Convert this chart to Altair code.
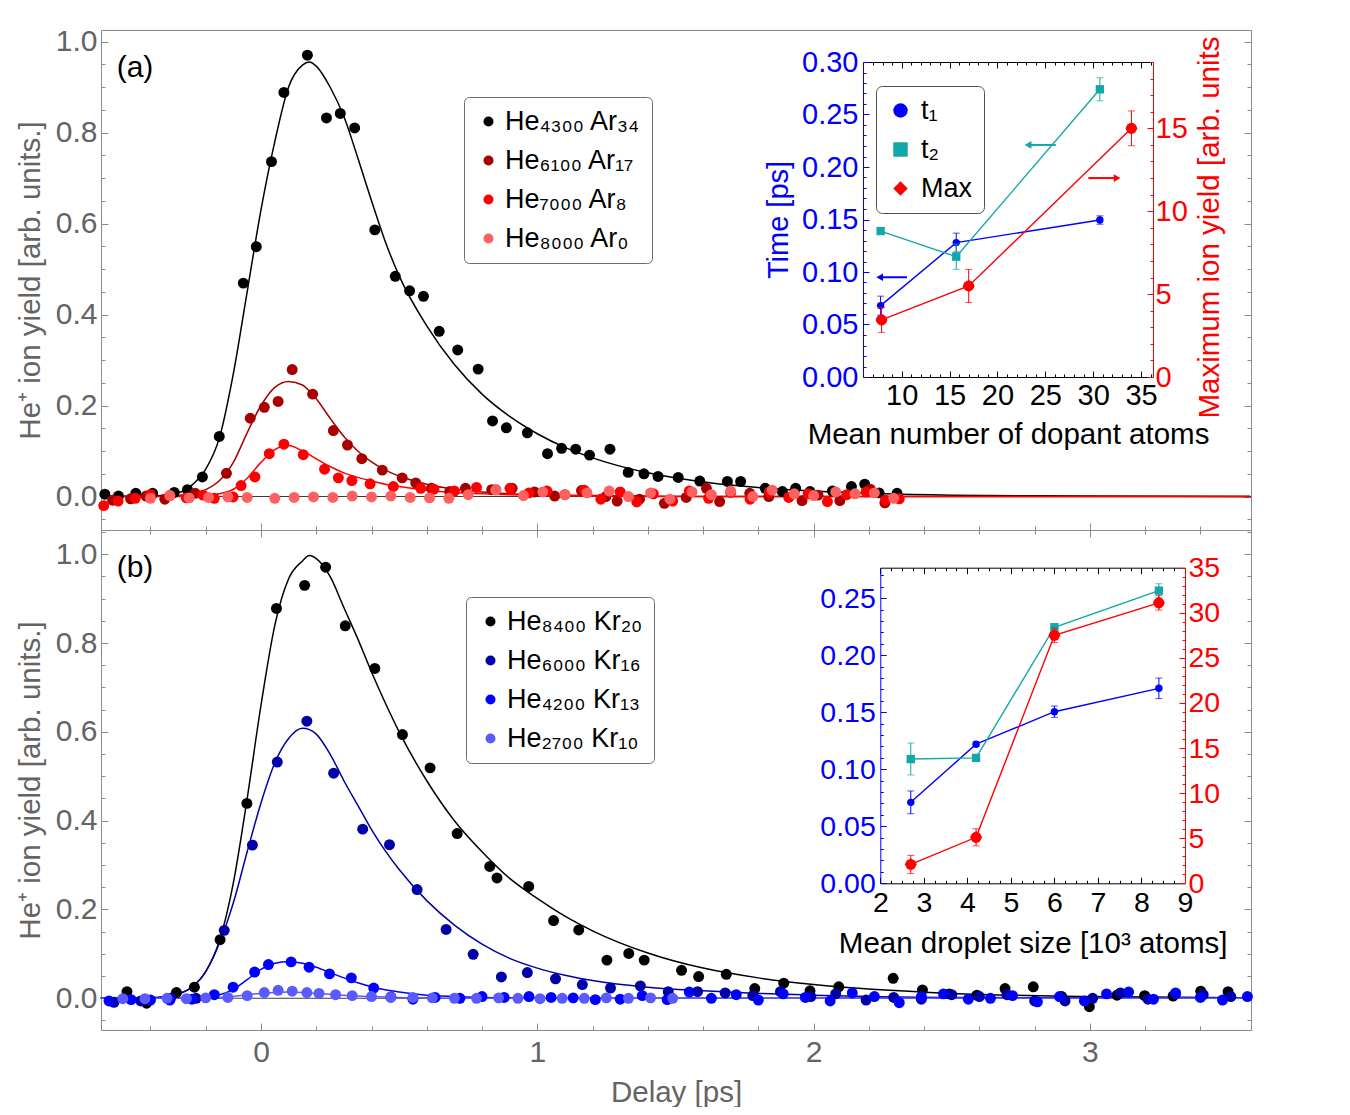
import altair as alt
import pandas as pd

FONT = "Liberation Sans"
GRAY = "#646464"
FRAME = "#8c8c8c"
BLUE = "#0000ff"
TEAL = "#12a8a8"
RED = "#ff0000"

# ---------------- panel (a): Ar-doped droplets ----------------
a_names = ["He₄₃₀₀ Ar₃₄", "He₆₁₀₀ Ar₁₇", "He₇₀₀₀ Ar₈", "He₈₀₀₀ Ar₀"]
a_colors = ["#000000", "#a80000", "#ff0000", "#ff6060"]

a_ar34_x = [-0.565, -0.516, -0.453, -0.392, -0.314, -0.266, -0.212, -0.151, -0.064, -0.017, 0.038, 0.083,
            0.168, 0.237, 0.287, 0.339, 0.412, 0.486, 0.538, 0.588, 0.645, 0.712, 0.786, 0.838, 0.888, 0.964,
            1.037, 1.088, 1.139, 1.189, 1.263, 1.329, 1.386, 1.437, 1.510, 1.588, 1.688, 1.736, 1.825, 1.887,
            1.935, 1.987, 2.068, 2.137, 2.185, 2.237, 2.302]
a_ar34_y = [0.005, 0.001, 0.007, 0.007, 0.009, 0.015, 0.043, 0.132, 0.469, 0.549, 0.736, 0.888, 0.970, 0.832,
            0.842, 0.810, 0.586, 0.484, 0.452, 0.440, 0.363, 0.322, 0.280, 0.166, 0.151, 0.140, 0.094, 0.106,
            0.104, 0.091, 0.104, 0.053, 0.050, 0.044, 0.042, 0.034, 0.033, 0.033, 0.018, 0.011, 0.018, 0.011,
            0.012, 0.022, 0.027, 0.008, 0.007]
a_ar17_x = [-0.537, -0.472, -0.416, -0.348, -0.238, -0.125, -0.039, 0.012, 0.062, 0.113, 0.187, 0.262, 0.313,
            0.365, 0.439, 0.511, 0.560, 0.617, 0.683, 0.740, 0.835, 0.909, 0.990, 1.063, 1.160, 1.248, 1.289,
            1.370, 1.460, 1.539, 1.612, 1.660, 1.769, 1.838, 1.958, 2.016, 2.095, 2.205, 2.258]
a_ar17_y = [-0.008, -0.005, 0.001, -0.006, 0.007, 0.051, 0.172, 0.196, 0.209, 0.279, 0.225, 0.145, 0.113,
            0.083, 0.058, 0.041, 0.030, 0.018, 0.011, 0.018, 0.015, 0.018, 0.010, 0.001, 0.013, 0.000, -0.010,
            -0.006, -0.015, -0.002, 0.018, -0.011, 0.007, 0.000, -0.009, 0.003, -0.009, 0.016, -0.014]
a_ar8_x = [-0.569, -0.517, -0.455, -0.40, -0.33, -0.27, -0.21, -0.169, -0.101, -0.072, -0.022, 0.030, 0.083,
           0.153, 0.230, 0.280, 0.329, 0.395, 0.479, 0.578, 0.626, 0.700, 0.780, 0.850, 0.901, 0.97, 1.035,
           1.10, 1.17, 1.23, 1.30, 1.36, 1.42, 1.49, 1.55, 1.62, 1.70, 1.77, 1.84, 1.91, 1.98, 2.05, 2.12,
           2.19, 2.26, 2.31]
a_ar8_y = [-0.020, -0.010, -0.004, 0.004, 0.002, -0.003, 0.003, -0.004, -0.001, 0.024, 0.043, 0.094, 0.115,
           0.092, 0.060, 0.041, 0.035, 0.028, 0.022, 0.018, 0.016, 0.012, 0.020, 0.015, 0.018, 0.008, 0.012,
           0.004, 0.014, -0.006, 0.010, -0.012, 0.006, -0.010, 0.012, -0.004, 0.009, -0.006, 0.010, -0.002,
           0.006, -0.011, 0.004, 0.010, -0.008, -0.005]
a_ar0_x = [-0.40, -0.33, -0.26, -0.19, -0.12, -0.05, 0.05, 0.12, 0.19, 0.26, 0.33, 0.40, 0.47, 0.54, 0.61,
           0.68, 0.75, 0.85, 0.95, 1.02, 1.10, 1.18, 1.26, 1.33, 1.41, 1.48, 1.56, 1.63, 1.70, 1.78, 1.85,
           1.93, 2.00, 2.08, 2.15, 2.22, 2.29]
a_ar0_y = [-0.004, 0.002, -0.003, -0.002, -0.001, -0.002, -0.004, -0.002, -0.001, -0.002, 0.001, -0.001,
           0.001, -0.002, -0.003, -0.004, 0.004, 0.014, 0.002, 0.010, 0.004, 0.008, 0.012, 0.000, 0.008,
           -0.006, 0.010, 0.004, 0.012, 0.000, 0.014, 0.006, 0.002, 0.010, 0.006, 0.008, -0.004]

# fitted curves
fit_x = [-0.58, -0.4, -0.3, -0.25, -0.2, -0.15, -0.1, -0.05, 0.0, 0.05, 0.1, 0.15, 0.175, 0.2, 0.25, 0.3, 0.35,
         0.4, 0.45, 0.5, 0.6, 0.7, 0.8, 0.9, 1.0, 1.1, 1.2, 1.4, 1.6, 1.8, 2.0, 2.5, 3.0, 3.58]
fit_a_ar34 = [0.0, 0.001, 0.008, 0.025, 0.06, 0.13, 0.27, 0.45, 0.63, 0.78, 0.90, 0.948, 0.955, 0.946, 0.90,
              0.835, 0.745, 0.65, 0.56, 0.485, 0.375, 0.29, 0.225, 0.176, 0.138, 0.108, 0.085, 0.052, 0.032,
              0.02, 0.012, 0.003, 0.001, 0.0]
fit_a_ar17 = [0.0, 0.0, 0.002, 0.006, 0.015, 0.035, 0.075, 0.14, 0.20, 0.24, 0.253, 0.245, 0.232, 0.215, 0.172,
              0.132, 0.10, 0.076, 0.058, 0.045, 0.027, 0.016, 0.01, 0.006, 0.004, 0.003, 0.002, 0.001, 0.0,
              0.0, 0.0, 0.0, 0.0, 0.0]
fit_a_ar8 = [0.0, 0.0, 0.0, 0.001, 0.002, 0.006, 0.016, 0.04, 0.075, 0.103, 0.112, 0.10, 0.092, 0.083, 0.066,
             0.052, 0.042, 0.034, 0.027, 0.022, 0.014, 0.009, 0.006, 0.004, 0.003, 0.002, 0.001, 0.0, 0.0,
             0.0, 0.0, 0.0, 0.0, 0.0]

# ---------------- panel (b): Kr-doped droplets ----------------
b_names = ["He₈₄₀₀ Kr₂₀", "He₆₀₀₀ Kr₁₆", "He₄₂₀₀ Kr₁₃", "He₂₇₀₀ Kr₁₀"]
b_colors = ["#000000", "#0000a8", "#0000ff", "#5a5aff"]

b_kr20_x = [-0.485, -0.414, -0.306, -0.241, -0.148, -0.051, 0.056, 0.158, 0.234, 0.305, 0.412, 0.512, 0.612,
            0.710, 0.828, 0.854, 0.969, 1.059, 1.150, 1.252, 1.331, 1.387, 1.522, 1.584, 1.684, 1.787, 1.892,
            1.987, 2.091, 2.288, 2.394, 2.491, 2.591, 2.693, 2.795, 2.898, 2.998, 3.098, 3.198, 3.301, 3.401,
            3.500]
b_kr20_y = [0.015, -0.011, 0.013, 0.025, 0.132, 0.439, 0.878, 0.930, 0.971, 0.839, 0.743, 0.594, 0.519, 0.371,
            0.297, 0.271, 0.252, 0.175, 0.154, 0.086, 0.101, 0.086, 0.063, 0.049, 0.054, 0.022, 0.034, 0.017,
            0.026, 0.045, 0.019, 0.010, 0.007, 0.022, 0.026, 0.004, -0.019, 0.007, 0.006, 0.005, 0.016, 0.015]
b_kr16_x = [-0.532, -0.435, -0.327, -0.235, -0.133, -0.031, 0.059, 0.166, 0.263, 0.368, 0.465, 0.565, 0.670,
            0.768, 0.870, 0.964, 1.066, 1.163, 1.265, 1.373, 1.474, 1.580, 1.68, 1.78, 1.88, 1.99, 2.08, 2.19,
            2.29, 2.39, 2.50, 2.60, 2.70, 2.80, 2.91, 3.01, 3.11, 3.21, 3.31, 3.41, 3.51]
b_kr16_y = [-0.009, -0.006, 0.000, 0.000, 0.153, 0.345, 0.532, 0.624, 0.507, 0.381, 0.346, 0.245, 0.155, 0.099,
            0.048, 0.058, 0.044, 0.031, 0.023, 0.028, 0.015, 0.015, 0.012, 0.006, 0.015, 0.004, 0.010, -0.004,
            0.002, -0.002, 0.008, 0.004, 0.008, -0.006, -0.006, 0.000, 0.012, -0.002, 0.010, 0.008, 0.004]
b_kr13_x = [-0.55, -0.47, -0.40, -0.33, -0.25, -0.169, -0.101, -0.023, 0.027, 0.109, 0.174, 0.248, 0.327,
            0.408, 0.47, 0.55, 0.63, 0.72, 0.80, 0.88, 0.97, 1.05, 1.13, 1.21, 1.30, 1.38, 1.47, 1.55, 1.63,
            1.72, 1.80, 1.89, 1.97, 2.06, 2.14, 2.22, 2.31, 2.39, 2.47, 2.56, 2.64, 2.72, 2.81, 2.89, 2.98,
            3.06, 3.14, 3.23, 3.31, 3.40, 3.48, 3.57]
b_kr13_y = [-0.006, -0.003, -0.004, -0.004, -0.002, 0.008, 0.025, 0.059, 0.076, 0.082, 0.070, 0.055, 0.046,
            0.023, 0.003, -0.002, 0.002, 0.000, 0.004, 0.002, 0.004, 0.002, 0.001, -0.003, -0.002, 0.006,
            -0.003, 0.014, 0.000, 0.008, -0.004, 0.010, 0.002, -0.006, 0.012, 0.004, -0.010, 0.004, 0.010,
            -0.002, 0.000, 0.006, -0.008, 0.004, -0.006, 0.010, 0.014, -0.002, 0.012, 0.002, -0.004, 0.004]
b_kr10_x = [-0.50, -0.42, -0.34, -0.27, -0.20, -0.12, -0.05, 0.012, 0.062, 0.113, 0.166, 0.21, 0.27, 0.33,
            0.40, 0.47, 0.55, 0.62, 0.70, 0.78, 0.86, 0.93, 1.01, 1.09, 1.17, 1.25, 1.33, 1.41, 1.49]
b_kr10_y = [-0.001, -0.001, 0.000, -0.001, 0.001, 0.002, 0.006, 0.013, 0.018, 0.016, 0.013, 0.011, 0.008,
            0.006, 0.004, 0.002, 0.002, 0.001, 0.000, 0.000, 0.001, 0.000, -0.001, 0.000, 0.000, 0.001, 0.000,
            0.001, 0.000]

fit_b_kr20 = [0.0, 0.001, 0.01, 0.025, 0.06, 0.13, 0.26, 0.45, 0.66, 0.84, 0.945, 0.985, 0.997, 0.99, 0.95,
              0.88, 0.81, 0.735, 0.665, 0.60, 0.49, 0.40, 0.33, 0.27, 0.225, 0.185, 0.152, 0.102, 0.068, 0.046,
              0.031, 0.011, 0.004, 0.001]
fit_b_kr16 = [0.0, 0.001, 0.01, 0.025, 0.06, 0.125, 0.215, 0.33, 0.44, 0.53, 0.585, 0.608, 0.605, 0.595, 0.55,
              0.49, 0.435, 0.38, 0.332, 0.29, 0.22, 0.165, 0.122, 0.09, 0.068, 0.052, 0.04, 0.025, 0.017,
              0.011, 0.007, 0.002, 0.001, 0.0]
fit_b_kr13 = [0.0, 0.0, 0.0, 0.001, 0.003, 0.008, 0.02, 0.042, 0.065, 0.079, 0.083, 0.079, 0.075, 0.07, 0.058,
              0.046, 0.035, 0.026, 0.019, 0.014, 0.007, 0.004, 0.002, 0.001, 0.0, 0.0, 0.0, 0.0, 0.0, 0.0, 0.0,
              0.0, 0.0, 0.0]
fit_b_kr10 = [0.0, 0.0, 0.0, 0.0, 0.0, 0.002, 0.004, 0.008, 0.011, 0.013, 0.014, 0.013, 0.012, 0.011, 0.009,
              0.007, 0.005, 0.004, 0.003, 0.002, 0.001, 0.0, 0.0, 0.0, 0.0, 0.0, 0.0, 0.0, 0.0, 0.0, 0.0, 0.0,
              0.0, 0.0]

zero_x = [-0.579]
zero_x2 = [3.583]
zero_y = [0.0]

# ---------------- inset (a): vs. number of dopant atoms ----------------
inset_names = ["t₁", "t₂", "Max"]
ia_t_x = [7.8, 15.7, 30.7]
ia_t1 = [0.068, 0.128, 0.1495]
ia_t1_err = [0.009, 0.009, 0.004]
ia_t2 = [0.139, 0.1146, 0.274]
ia_t2_err = [0.002, 0.012, 0.011]
ia_max_x = [7.9, 17.0, 34.0]
ia_max = [3.44, 5.49, 15.0]
ia_max_err = [0.75, 1.0, 1.05]
# annotation arrows: (from, to, level)
ia_arrow_t_from = [10.55, 26.1]
ia_arrow_t_to = [7.7, 23.2]
ia_arrow_t_y = [0.095, 0.221]
ia_arrow_t_s = ["t₁", "t₂"]
ia_arrow_m_from = [29.5]
ia_arrow_m_to = [32.5]
ia_arrow_m_y = [12.0]

# ---------------- inset (b): vs. droplet size ----------------
ib_x = [2.7, 4.2, 6.0, 8.4]
ib_t1 = [0.071, 0.122, 0.1505, 0.171]
ib_t1_err = [0.010, 0.002, 0.005, 0.009]
ib_t2 = [0.109, 0.110, 0.2246, 0.2567]
ib_t2_err = [0.014, 0.002, 0.003, 0.006]
ib_max = [2.1, 5.1, 27.5, 31.1]
ib_max_err = [1.0, 0.95, 0.8, 0.8]

# ---------------- layout: pixel ranges inside the plot area ----------------
W, H = 1150, 1000
X_MAIN = ([-0.579, 3.583], [0, W])
Y_A = ([-0.0736, 1.0253], [500, 0])
Y_B = ([-0.0714, 1.0547], [H, 500])
X_IA = ([5.96, 36.25], [762, 1052])
Y_IA1 = ([0.0, 0.30], [347, 32])
Y_IA2 = ([0.0, 19.0], [347, 32])
X_IB = ([2.0, 9.0], [779.3, 1084])
Y_IB1 = ([0.0, 0.2768], [853.3, 537.7])
Y_IB2 = ([0.0, 35.0], [853.3, 537.7])


def scl(s):
    return alt.Scale(domain=list(s[0]), range=list(s[1]), nice=False, zero=False)


def qx(field, s, axis=None):
    return alt.X(field, type="quantitative", scale=scl(s), axis=axis)


def qy(field, s, axis=None):
    return alt.Y(field, type="quantitative", scale=scl(s), axis=axis)


def off(orient, p):
    return {"left": -p, "right": p - W, "top": -p, "bottom": p - H}[orient]


def tick_axis(orient, pos, values, test, major, minor, color, domain=False):
    kw = dict(orient=orient, offset=off(orient, pos), values=values, labels=False, ticks=True,
              tickColor=color, tickWidth=1,
              tickSize={"condition": {"test": test, "value": major}, "value": minor},
              domain=domain, grid=False, title=None)
    if domain:
        kw.update(domainColor=color, domainWidth=1)
    return alt.Axis(**kw)


def label_axis(orient, pos, values, fmt, color, size, pad, title=None, tcolor=None, tsize=29, tpad=8,
               domain=False, **extra):
    kw = dict(orient=orient, offset=off(orient, pos), values=values, format=fmt, labels=True, ticks=False,
              domain=domain, grid=False, labelColor=color, labelFontSize=size, labelFont=FONT,
              labelPadding=pad, labelFlush=False, labelOverlap=False)
    if domain:
        kw.update(domainColor=color, domainWidth=1)
    if title is None:
        kw["title"] = None
    else:
        kw.update(title=title, titleColor=tcolor, titleFontSize=tsize, titleFont=FONT,
                  titleFontWeight="normal", titlePadding=tpad)
    kw.update(extra)
    return alt.Axis(**kw)


def pts(names, xs_list, ys_list):
    rows = []
    for n, xs, ys in zip(names, xs_list, ys_list):
        for x, y in zip(xs, ys):
            rows.append({"s": n, "x": x, "y": y})
    return pd.DataFrame(rows)


# tick value sets (axis furniture)
main_x_ticks = [round(-0.4 + 0.2 * i, 1) for i in range(20)]
ya_ticks = [round(-0.05 + 0.05 * i, 2) for i in range(22)]
yb_ticks = [round(-0.05 + 0.05 * i, 2) for i in range(23)]
y_labels = [0.0, 0.2, 0.4, 0.6, 0.8, 1.0]
T_INT = "abs(datum.value - round(datum.value)) < 1e-6"
T_FIFTH = "abs(datum.value * 5 - round(datum.value * 5)) < 1e-6"
T_FIVE = "abs(datum.value / 5 - round(datum.value / 5)) < 1e-6"
T_005 = "abs(datum.value * 20 - round(datum.value * 20)) < 1e-6"

zero_df = pd.DataFrame({"x": zero_x, "x2": zero_x2, "y": zero_y})


def main_panel(names, colors, pxs, pys, fits, ysc, yticks, top_pos, bottom_pos, legend_xy, bottom_labels):
    pdf = pts(names, pxs, pys)
    fit_names = [n for n, f in zip(names, fits) if f is not None]
    fit_vals = [f for f in fits if f is not None]
    fdf = pts(fit_names, [fit_x] * len(fit_vals), fit_vals)
    cscale = alt.Scale(domain=names, range=colors)
    zero = alt.Chart(zero_df).mark_rule(color="#3c3c3c", strokeWidth=1.1).encode(
        x=qx("x", X_MAIN, tick_axis("bottom", top_pos, main_x_ticks, T_INT, 7, 4, FRAME) if top_pos else None),
        x2="x2",
        y=qy("y", ysc, tick_axis("left", W, yticks, T_FIFTH, 7, 4, FRAME)),
    )
    fit = alt.Chart(fdf).mark_line(strokeWidth=1.5, interpolate="monotone").encode(
        x=qx("x", X_MAIN, tick_axis("top", bottom_pos, main_x_ticks, T_INT, 7, 4, FRAME, domain=True)),
        y=qy("y", ysc, tick_axis("right", 0, yticks, T_FIFTH, 7, 4, FRAME)),
        color=alt.Color("s:N", scale=cscale, legend=None),
    )
    if bottom_labels:
        xax = label_axis("bottom", H, [0, 1, 2, 3], "d", GRAY, 30, 7, title="Delay [ps]", tcolor=GRAY,
                         tsize=29.5, tpad=11)
    else:
        xax = None
    legend = alt.Legend(orient="none", legendX=legend_xy[0], legendY=legend_xy[1], title=None,
                        labelFontSize=27, labelFont=FONT, labelLimit=400, symbolType="circle",
                        symbolSize=100, symbolStrokeWidth=0, strokeColor="#6e6e6e", fillColor="white",
                        cornerRadius=5, padding=11, rowPadding=11, labelOffset=3)
    points = alt.Chart(pdf).mark_circle(size=120, opacity=1).encode(
        x=qx("x", X_MAIN, xax),
        y=qy("y", ysc, label_axis("left", 0, y_labels, ".1f", GRAY, 30, 4,
                                  title="He⁺ ion yield [arb. units.]", tcolor=GRAY, tsize=29.5, tpad=10)),
        color=alt.Color("s:N", scale=cscale, legend=legend),
    )
    return [zero, fit, points]


layers = []
layers += main_panel(a_names, a_colors, [a_ar34_x, a_ar17_x, a_ar8_x, a_ar0_x],
                     [a_ar34_y, a_ar17_y, a_ar8_y, a_ar0_y], [fit_a_ar34, fit_a_ar17, fit_a_ar8, None],
                     Y_A, ya_ticks, None, 500, (363, 67), False)
layers += main_panel(b_names, b_colors, [b_kr20_x, b_kr16_x, b_kr13_x, b_kr10_x],
                     [b_kr20_y, b_kr16_y, b_kr13_y, b_kr10_y], [fit_b_kr20, fit_b_kr16, fit_b_kr13, fit_b_kr10],
                     Y_B, yb_ticks, 500, H, (365, 567), True)


def err_layers(xv, yv, ev, xs, ys, color):
    lo = [y - e for y, e in zip(yv, ev)]
    hi = [y + e for y, e in zip(yv, ev)]
    df = pd.DataFrame({"x": xv, "lo": lo, "hi": hi})
    rule = alt.Chart(df).mark_rule(color=color, strokeWidth=1).encode(
        x=qx("x", xs), y=qy("lo", ys), y2="hi")
    cdf = pd.DataFrame({"x": list(xv) + list(xv), "y": lo + hi})
    caps = alt.Chart(cdf).mark_tick(color=color, orient="horizontal", size=7, thickness=1).encode(
        x=qx("x", xs), y=qy("y", ys))
    return [rule, caps]


def inset(xsc, y1sc, y2sc, tx, t1, e1, t2, e2, mx, mv, me, cfg):
    out = []
    d1 = pd.DataFrame({"x": tx, "y": t1})
    d2 = pd.DataFrame({"x": tx, "y": t2})
    dm = pd.DataFrame({"x": mx, "y": mv})
    x0, x1 = xsc[1]
    ybot, ytop = y1sc[1]
    # t1
    out.append(alt.Chart(d1).mark_line(color=BLUE, strokeWidth=1.4).encode(
        x=qx("x", xsc, label_axis("bottom", ybot, cfg["xlabels"], "d", "black", cfg["lsize"], cfg["xpad"],
                                  title=cfg["xtitle"], tcolor="black", tsize=29.5, tpad=cfg["xtpad"])),
        y=qy("y", y1sc, label_axis("left", x0, cfg["y1labels"], ".2f", BLUE, cfg["lsize"], 5,
                                   title=cfg["y1title"], tcolor=BLUE, tsize=29, tpad=8, domain=True))))
    out += err_layers(tx, t1, e1, xsc, y1sc, BLUE)
    out.append(alt.Chart(d1).mark_circle(color=BLUE, size=55, opacity=1).encode(
        x=qx("x", xsc, tick_axis("top", ybot, cfg["xticks"], cfg["xtest"], 6, 3, "black", domain=True)),
        y=qy("y", y1sc, tick_axis("right", x0, cfg["y1ticks"], T_005, 6, 3, BLUE))))
    # t2
    out.append(alt.Chart(d2).mark_line(color=TEAL, strokeWidth=1.4).encode(
        x=qx("x", xsc, tick_axis("bottom", ytop, cfg["xticks"], cfg["xtest"], 6, 3, "black", domain=True)),
        y=qy("y", y1sc)))
    out += err_layers(tx, t2, e2, xsc, y1sc, TEAL)
    out.append(alt.Chart(d2).mark_square(color=TEAL, size=70, opacity=1).encode(
        x=qx("x", xsc), y=qy("y", y1sc)))
    # max
    y2extra = cfg.get("y2extra", {})
    out.append(alt.Chart(dm).mark_line(color=RED, strokeWidth=1.4).encode(
        x=qx("x", xsc),
        y=qy("y", y2sc, label_axis("right", x1, cfg["y2labels"], "d", RED, cfg["lsize"], cfg["y2pad"],
                                   title=cfg.get("y2title"), tcolor=RED, tsize=29.5, tpad=8, domain=True,
                                   **y2extra))))
    out += err_layers(mx, mv, me, xsc, y2sc, RED)
    out.append(alt.Chart(dm).mark_circle(color=RED, size=120, opacity=1).encode(
        x=qx("x", xsc), y=qy("y", y2sc, tick_axis("left", x1, cfg["y2ticks"], T_FIVE, 6, 3, RED))))
    out.append(alt.Chart(dm).mark_point(shape="diamond", filled=True, color=RED, size=150, opacity=1).encode(
        x=qx("x", xsc), y=qy("y", y2sc)))
    return out


ia_cfg = dict(xlabels=[10, 15, 20, 25, 30, 35], xticks=list(range(7, 37)), xtest=T_FIVE,
              y1labels=[0.0, 0.05, 0.10, 0.15, 0.20, 0.25, 0.30], y1ticks=[round(0.01 * i, 2) for i in range(31)],
              y2labels=[0, 5, 10, 15], y2ticks=list(range(0, 20)), lsize=29, xpad=4, xtpad=10,
              xtitle="Mean number of dopant atoms", y1title="Time [ps]",
              y2title="Maximum ion yield [arb. units", y2pad=2,
              y2extra=dict(titleAngle=270, titleBaseline="top", titleY=197))
layers += inset(X_IA, Y_IA1, Y_IA2, ia_t_x, ia_t1, ia_t1_err, ia_t2, ia_t2_err, ia_max_x, ia_max, ia_max_err,
                ia_cfg)

ib_cfg = dict(xlabels=[2, 3, 4, 5, 6, 7, 8, 9], xticks=[round(2 + 0.25 * i, 2) for i in range(29)], xtest=T_INT,
              y1labels=[0.0, 0.05, 0.10, 0.15, 0.20, 0.25], y1ticks=[round(0.01 * i, 2) for i in range(28)],
              y2labels=[0, 5, 10, 15, 20, 25, 30, 35], y2ticks=list(range(0, 36)), lsize=28.5, xpad=5,
              xtpad=13, xtitle="Mean droplet size [10³ atoms]", y1title=None, y2pad=3)
layers += inset(X_IB, Y_IB1, Y_IB2, ib_x, ib_t1, ib_t1_err, ib_t2, ib_t2_err, ib_x, ib_max, ib_max_err, ib_cfg)

# arrows in inset (a)
arr_t = pd.DataFrame({"x": ia_arrow_t_from, "x2": ia_arrow_t_to, "y": ia_arrow_t_y, "s": ia_arrow_t_s})
arr_m = pd.DataFrame({"x": ia_arrow_m_from, "x2": ia_arrow_m_to, "y": ia_arrow_m_y})
arr_scale = alt.Scale(domain=["t₁", "t₂"], range=[BLUE, TEAL])
layers.append(alt.Chart(arr_t).mark_rule(strokeWidth=2).encode(
    x=qx("x", X_IA), x2="x2", y=qy("y", Y_IA1), color=alt.Color("s:N", scale=arr_scale, legend=None)))
layers.append(alt.Chart(arr_t).mark_point(shape="triangle-left", filled=True, size=60, opacity=1).encode(
    x=qx("x2", X_IA), y=qy("y", Y_IA1), color=alt.Color("s:N", scale=arr_scale, legend=None)))
layers.append(alt.Chart(arr_m).mark_rule(strokeWidth=2, color=RED).encode(
    x=qx("x", X_IA), x2="x2", y=qy("y", Y_IA2)))
layers.append(alt.Chart(arr_m).mark_point(shape="triangle-right", filled=True, size=60, color=RED,
                                          opacity=1).encode(x=qx("x2", X_IA), y=qy("y", Y_IA2)))

# inset legend (its own marks sit hidden beneath the white legend box)
ileg = alt.Legend(orient="none", legendX=775, legendY=56, title=None, labelFontSize=27, labelFont=FONT,
                  labelLimit=300, symbolSize=210, symbolStrokeWidth=0, strokeColor="#505050",
                  fillColor="white", cornerRadius=6, padding=11, rowPadding=11, labelOffset=7)
layers.append(alt.Chart(pd.DataFrame({"s": inset_names})).mark_point(filled=True, opacity=1, size=10).encode(
    x=alt.value(820), y=alt.value(120),
    color=alt.Color("s:N", scale=alt.Scale(domain=inset_names, range=[BLUE, TEAL, RED]), legend=ileg),
    shape=alt.Shape("s:N", scale=alt.Scale(domain=inset_names, range=["circle", "square", "diamond"]),
                    legend=ileg)))

# panel tags
for tag, ypix in [("(a)", 38), ("(b)", 538)]:
    layers.append(alt.Chart(pd.DataFrame({"t": [tag]})).mark_text(
        fontSize=30, font=FONT, color="black", align="center", baseline="middle").encode(
        text="t:N", x=alt.value(34), y=alt.value(ypix)))

chart = alt.layer(*layers).resolve_scale(
    x="independent", y="independent", color="independent", shape="independent"
).properties(
    width=W, height=H, padding={"left": 7, "top": 18, "right": 5, "bottom": 0}
).configure_view(
    stroke=FRAME, strokeWidth=1
).configure_axis(
    grid=False, labelFont=FONT, titleFont=FONT, titleFontWeight="normal"
).configure_legend(
    labelFont=FONT
)

chart.save("out.html", embed_options={"renderer": "svg", "actions": False})
